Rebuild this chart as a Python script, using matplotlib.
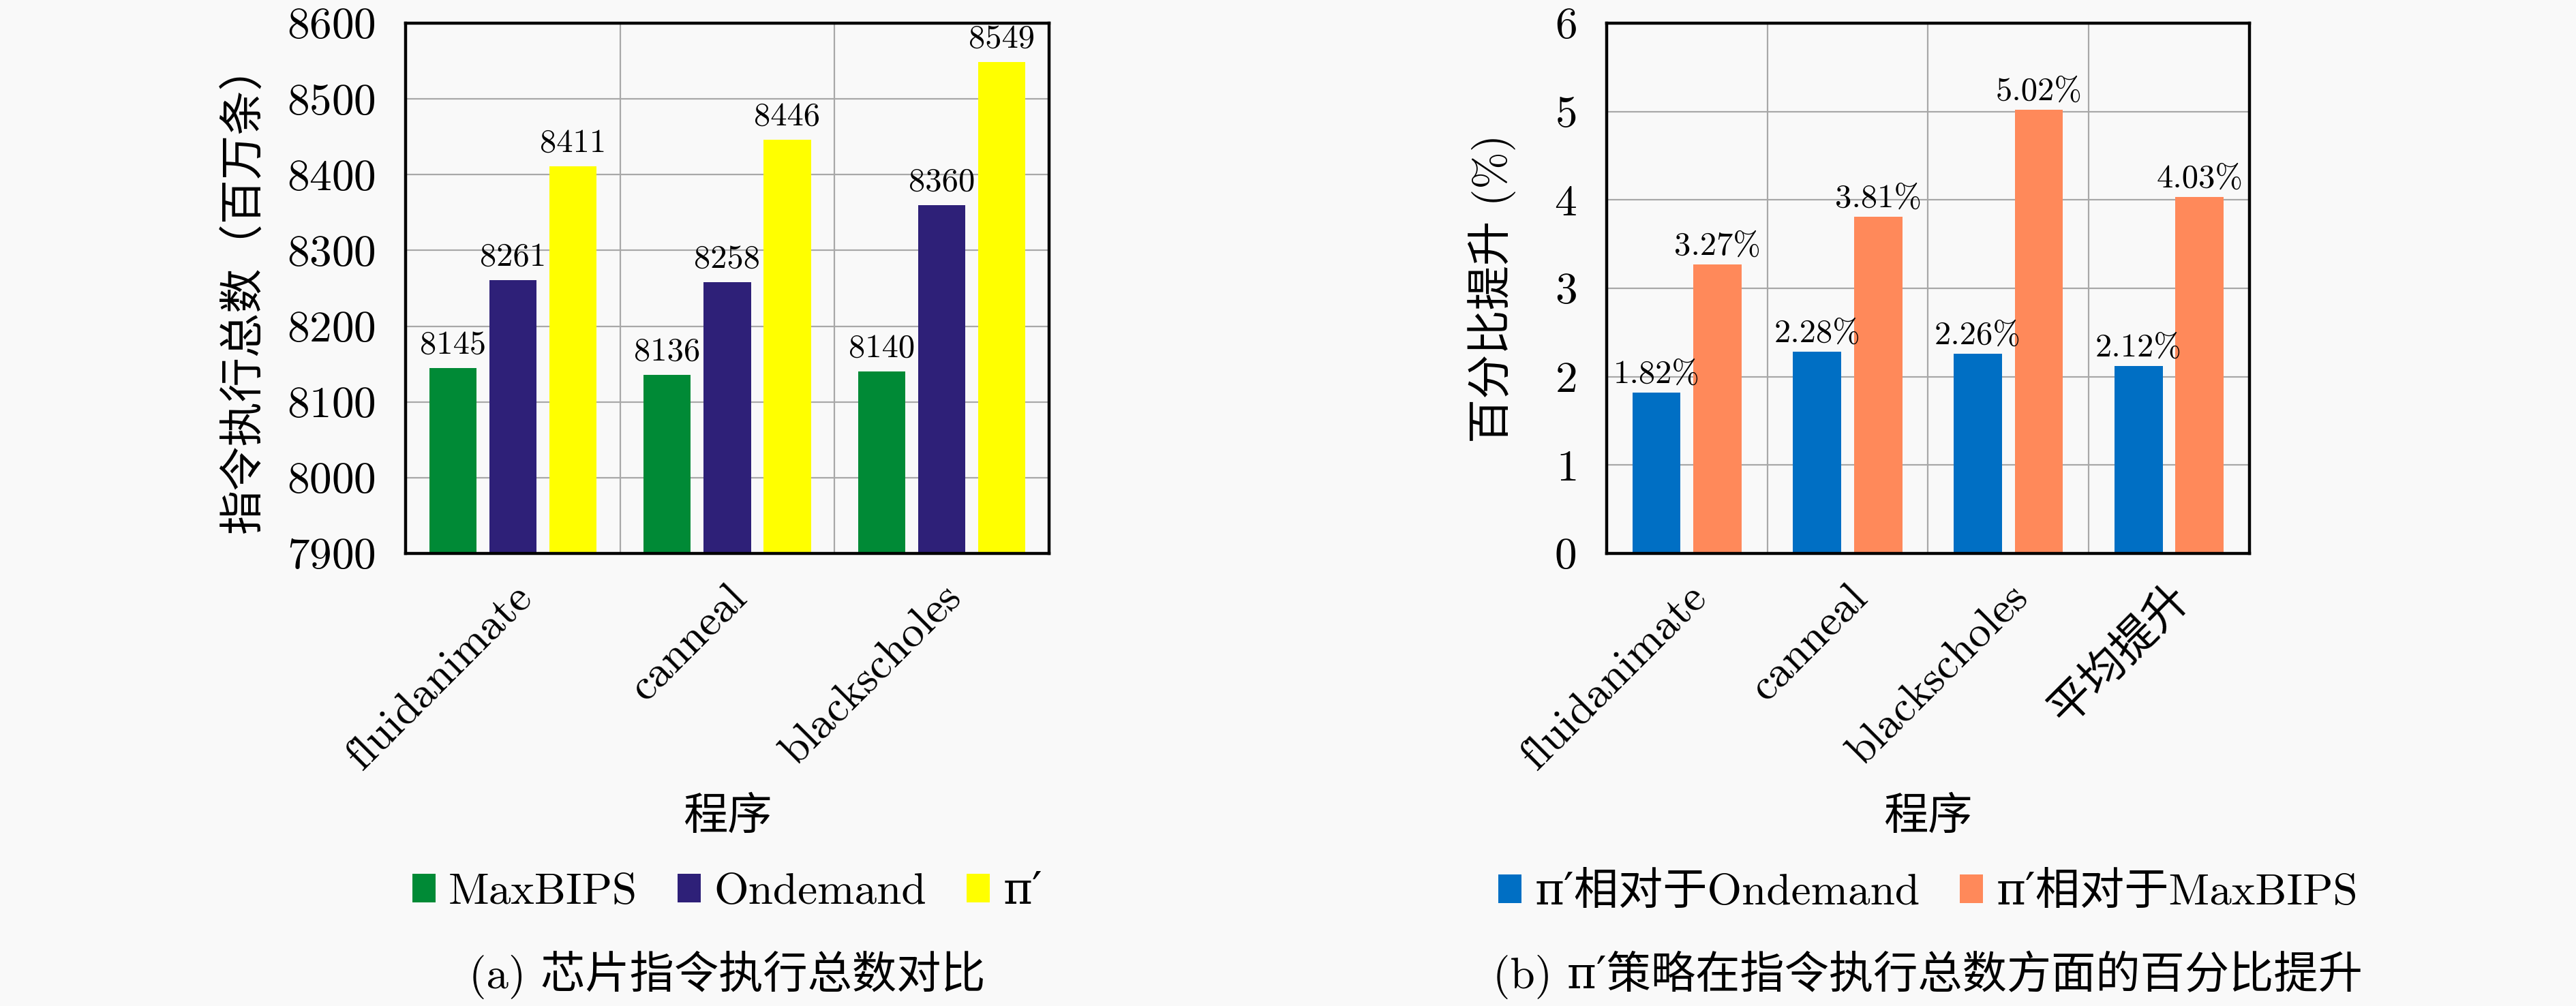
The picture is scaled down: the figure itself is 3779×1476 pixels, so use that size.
import numpy as np
import matplotlib
matplotlib.use("Agg")
import matplotlib.pyplot as plt
from matplotlib.patches import Patch

plt.rcParams['font.family'] = ['cmr10', 'DejaVu Serif', 'Noto Sans CJK SC']
plt.rcParams['axes.formatter.use_mathtext'] = True

# chart (a): total instructions executed
progs_a = ["fluidanimate", "canneal", "blackscholes"]
maxbips = [8145, 8136, 8140]
ondemand = [8261, 8258, 8360]
pi_prime = [8411, 8446, 8549]
names_a = ["MaxBIPS", "Ondemand", "π′"]
colors_a = ["#008a36", "#2e2078", "#ffff00"]

# chart (b): percentage improvement
progs_b = ["fluidanimate", "canneal", "blackscholes", "平均提升"]
vs_ondemand = [1.82, 2.28, 2.26, 2.12]
vs_maxbips = [3.27, 3.81, 5.02, 4.03]
names_b = ["π′相对于Ondemand", "π′相对于MaxBIPS"]
colors_b = ["#006fc4", "#ff895a"]

bg = "#f9f9f9"
fs = 47
lab_fs = 35

fig = plt.figure(figsize=(37.8, 14.76), dpi=100, facecolor=bg)
ax1 = fig.add_axes([0.1574, 0.4499, 0.2497, 0.5271])
ax2 = fig.add_axes([0.6235, 0.4499, 0.2495, 0.5271])


def style(ax, ncat):
    ax.set_facecolor(bg)
    ax.set_xlim(-0.5, ncat - 0.5)
    ax.set_xticks(np.arange(ncat) + 0.5, minor=True)
    ax.grid(True, which='major', axis='y', color='#a8a8a8', lw=1.6)
    ax.grid(True, which='minor', axis='x', color='#a8a8a8', lw=1.6)
    ax.set_axisbelow(True)
    for s in ax.spines.values():
        s.set_linewidth(3.2)
        s.set_color('black')
    ax.tick_params(axis='y', length=0, pad=32, labelsize=fs)
    ax.tick_params(axis='x', which='both', length=0, pad=26, labelsize=fs)


# (a)
x = np.arange(len(progs_a))
style(ax1, len(progs_a))
w = 0.22
edges_a = ["#008a36", "#2e2078", "#ffb000"]
for i, (vals, c) in enumerate(zip([maxbips, ondemand, pi_prime], colors_a)):
    b = ax1.bar(x + (i - 1) * 0.28, vals, w, color=c, zorder=2)
    ax1.bar_label(b, labels=[str(v) for v in vals], padding=8, fontsize=lab_fs)
ax1.set_ylim(7900, 8600)
ax1.set_yticks(np.arange(7900, 8601, 100))
ax1.set_xticks(x)
ax1.set_xticklabels(progs_a, rotation=45, ha='right', va='top', rotation_mode='anchor')
ax1.set_ylabel("指令执行总数（百万条）", fontsize=fs, labelpad=22)

# (b)
x2 = np.arange(len(progs_b))
style(ax2, len(progs_b))
w2 = 0.30
for i, (vals, c) in enumerate(zip([vs_ondemand, vs_maxbips], colors_b)):
    b = ax2.bar(x2 + (i - 0.5) * 0.38, vals, w2, color=c, zorder=2)
    ax2.bar_label(b, labels=["%.2f%%" % v for v in vals], padding=3, fontsize=lab_fs)
ax2.set_ylim(0, 6)
ax2.set_yticks(np.arange(0, 7, 1))
ax2.set_xticks(x2)
ax2.set_xticklabels(progs_b, rotation=45, ha='right', va='top', rotation_mode='anchor')
ax2.set_ylabel("百分比提升 (%)", fontsize=fs, labelpad=40)

for ax, names, colors, cap in [(ax1, names_a, colors_a, "(a) 芯片指令执行总数对比"),
                               (ax2, names_b, colors_b, "(b) π′策略在指令执行总数方面的百分比提升")]:
    pos = ax.get_position()
    cx = (pos.x0 + pos.x1) / 2
    fig.text(cx, 0.187, "程序", ha='center', va='center', fontsize=fs)
    handles = [Patch(facecolor=c, edgecolor='none') for c in colors]
    fig.legend(handles, names, loc='center', bbox_to_anchor=(cx, 0.1125), ncol=len(names),
               frameon=False, fontsize=fs, handlelength=0.52, handleheight=0.6,
               handletextpad=0.3, columnspacing=0.9, borderaxespad=0)
    fig.text(cx, 0.031, cap, ha='center', va='center', fontsize=fs)

fig.savefig("out.png", dpi=100, facecolor=bg)
